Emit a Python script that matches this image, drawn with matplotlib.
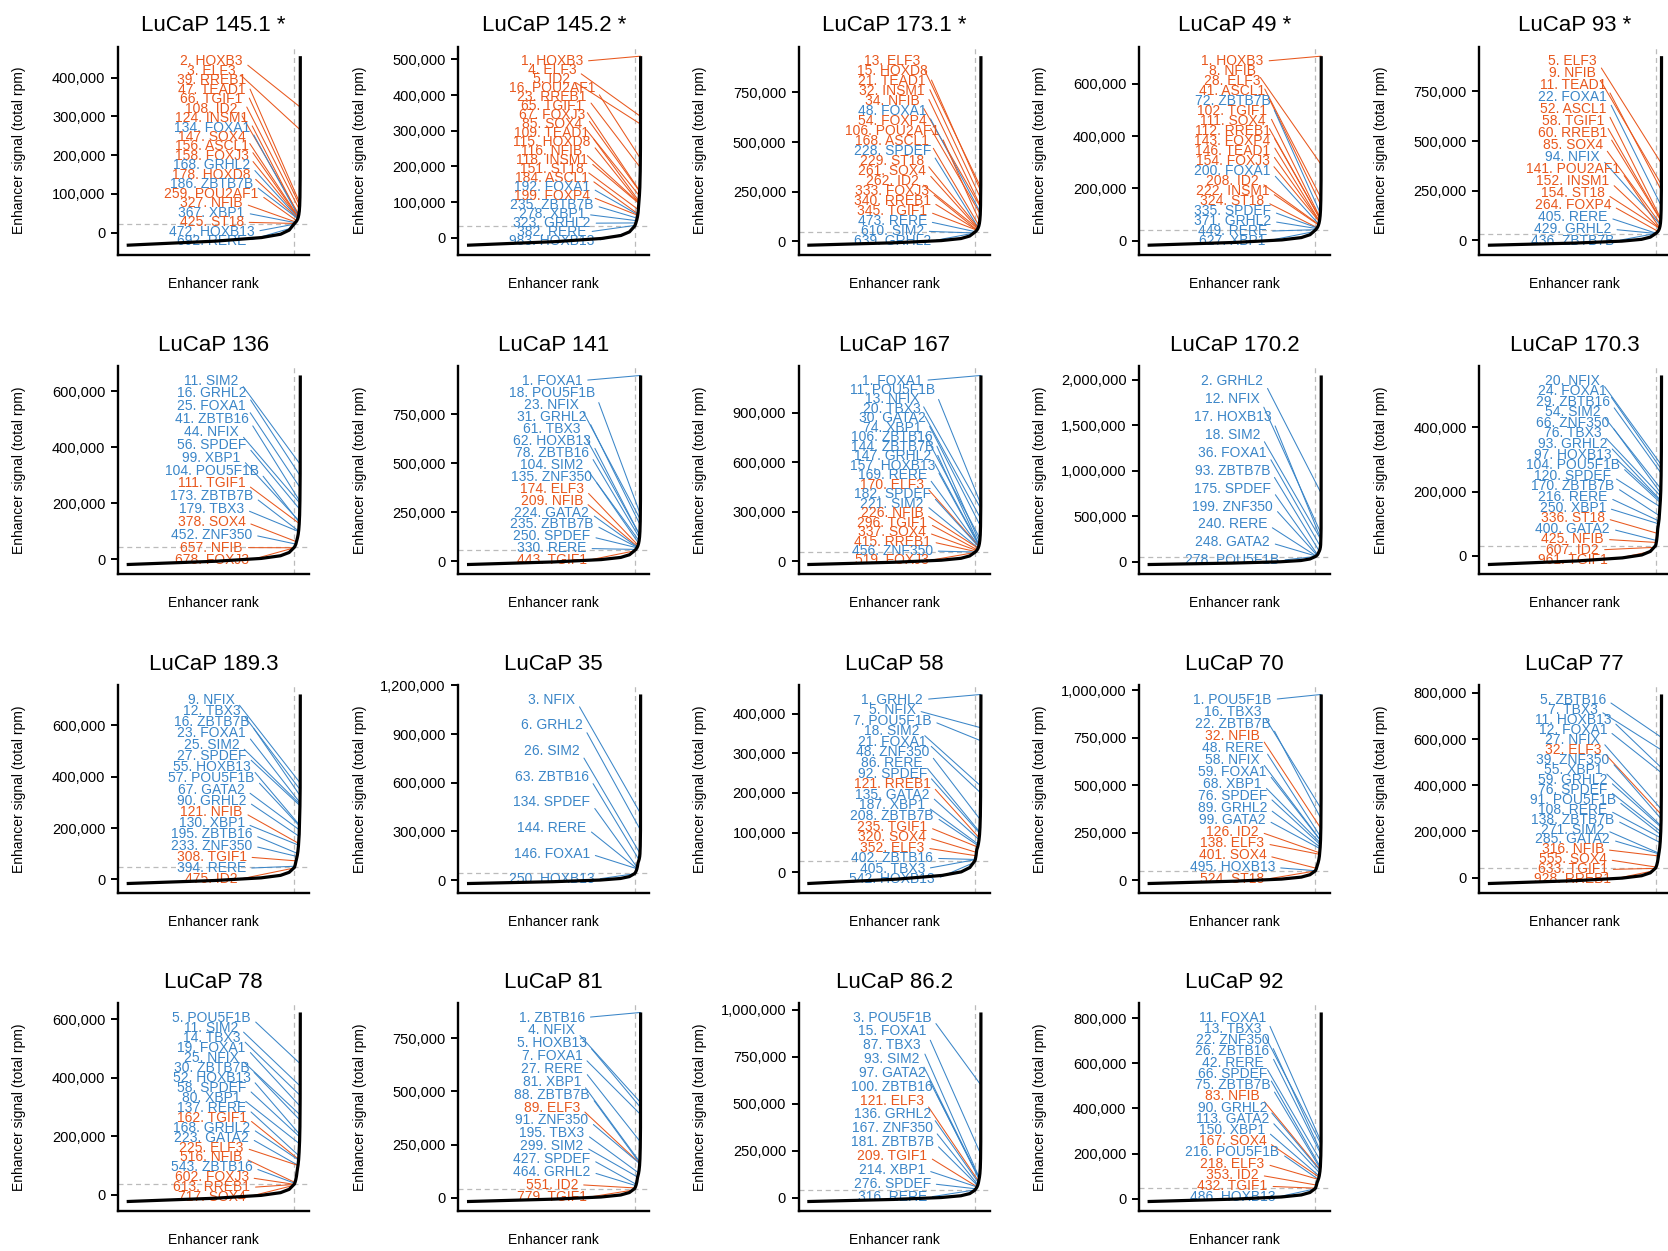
import numpy as np
import matplotlib
matplotlib.use("Agg")
import matplotlib.pyplot as plt
from matplotlib.ticker import MultipleLocator, FuncFormatter

plt.rcParams['font.family'] = ['Liberation Sans', 'DejaVu Sans']

# ---------------- data ----------------
titles = ["LuCaP 145.1 *", "LuCaP 145.2 *", "LuCaP 173.1 *", "LuCaP 49 *", "LuCaP 93 *",
          "LuCaP 136", "LuCaP 141", "LuCaP 167", "LuCaP 170.2", "LuCaP 170.3",
          "LuCaP 189.3", "LuCaP 35", "LuCaP 58", "LuCaP 70", "LuCaP 77",
          "LuCaP 78", "LuCaP 81", "LuCaP 86.2", "LuCaP 92"]

# signal of the top-ranked enhancer (rank 1)
signal_max = [455e3, 509e3, 933e3, 705e3, 928e3, 656e3, 948e3, 1125e3, 2048e3, 562e3,
              720e3, 1144e3, 448e3, 977e3, 793e3, 623e3, 871e3, 986e3, 825e3]
# signal of the lowest-ranked enhancer
signal_min = [-32e3, -21e3, -20e3, -17e3, -25e3, -19e3, -17e3, -20e3, -29e3, -27e3,
              -16e3, -21e3, -28e3, -18e3, -26e3, -23e3, -17e3, -20e3, -12e3]
# super-enhancer cutoff (signal) and number of super-enhancers
se_cutoff = [24e3, 33e3, 47e3, 41e3, 34e3, 43e3, 55e3, 55e3, 59e3, 32e3,
             47e3, 41e3, 30e3, 49e3, 41e3, 37e3, 44e3, 41e3, 46e3]
se_rank = [430, 400, 500, 480, 440, 600, 400, 470, 280, 480,
           420, 230, 420, 500, 600, 570, 580, 320, 440]
n_enhancers = [12600, 11800, 14700, 14100, 12900, 17600, 11800, 13800, 8200, 14100,
               12400, 6800, 12400, 14700, 17600, 16800, 17000, 9400, 12900]
# signal read at ranks 3, 10, 30, 100, 300 (None when beyond the SE cutoff)
anchor_ranks = [3, 10, 30, 100, 300]
anchor_signal = [
    [265e3, 150e3, 87e3, 49e3, 29e3],
    [370e3, 260e3, 180e3, 110e3, 45e3],
    [551e3, 308e3, 182e3, 102e3, 60e3],
    [480e3, 260e3, 160e3, 90e3, 52e3],
    [510e3, 265e3, 147e3, 76e3, 42e3],
    [500e3, 350e3, 240e3, 135e3, 75e3],
    [565e3, 317e3, 188e3, 106e3, 63e3],
    [657e3, 364e3, 212e3, 118e3, 69e3],
    [420e3, 350e3, 180e3, 115e3, None],
    [420e3, 340e3, 255e3, 170e3, 90e3],
    [500e3, 365e3, 280e3, 160e3, 75e3],
    [410e3, 250e3, 155e3, 110e3, None],
    [420e3, 300e3, 165e3, 95e3, 57e3],
    [650e3, 470e3, 280e3, 165e3, 85e3],
    [700e3, 500e3, 280e3, 180e3, 100e3],
    [500e3, 385e3, 255e3, 160e3, 85e3],
    [480e3, 360e3, 255e3, 155e3, 98e3],
    [600e3, 280e3, 170e3, 100e3, 45e3],
    [430e3, 260e3, 190e3, 120e3, 75e3],
]
# shape of the sub-cutoff tail (fraction along tail, fraction of rise to cutoff)
tail_pos = [0, 0.29, 0.55, 0.81, 0.92, 0.97, 1.0]
tail_rise = [0, 0.107, 0.196, 0.357, 0.51, 0.70, 1.0]

tick_step = [100e3, 100e3, 250e3, 200e3, 250e3, 200e3, 250e3, 300e3, 500e3, 200e3,
             200e3, 300e3, 100e3, 250e3, 200e3, 200e3, 250e3, 250e3, 200e3]

label_ranks = [
    [2, 3, 39, 47, 66, 108, 124, 134, 147, 156, 158, 168, 178, 186, 259, 327, 367, 425, 472, 692],
    [1, 4, 5, 16, 23, 65, 67, 85, 109, 115, 116, 118, 151, 184, 192, 199, 235, 278, 323, 382, 983],
    [13, 15, 21, 32, 34, 48, 54, 106, 168, 228, 229, 261, 262, 333, 340, 345, 473, 610, 639],
    [1, 8, 28, 41, 72, 102, 111, 112, 143, 146, 154, 200, 208, 222, 324, 335, 371, 449, 627],
    [5, 9, 11, 22, 52, 58, 60, 85, 94, 141, 152, 154, 264, 405, 429, 436],
    [11, 16, 25, 41, 44, 56, 99, 104, 111, 173, 179, 378, 452, 657, 678],
    [1, 18, 23, 31, 61, 62, 78, 104, 135, 174, 209, 224, 235, 250, 330, 443],
    [1, 11, 13, 20, 30, 74, 106, 144, 147, 157, 169, 170, 182, 221, 226, 296, 337, 415, 456, 519],
    [2, 12, 17, 18, 36, 93, 175, 199, 240, 248, 278],
    [20, 24, 29, 54, 66, 76, 93, 97, 104, 120, 170, 216, 250, 336, 400, 425, 607, 961],
    [9, 12, 16, 23, 25, 27, 55, 57, 67, 90, 121, 130, 195, 233, 308, 394, 475],
    [3, 6, 26, 63, 134, 144, 146, 250],
    [1, 5, 7, 18, 21, 48, 86, 92, 121, 135, 187, 208, 235, 320, 352, 402, 405, 542],
    [1, 16, 22, 32, 48, 58, 59, 68, 76, 89, 99, 126, 138, 401, 495, 524],
    [5, 7, 11, 12, 27, 32, 39, 55, 59, 76, 91, 108, 138, 271, 285, 316, 555, 633, 928],
    [5, 11, 14, 19, 25, 30, 52, 58, 80, 137, 162, 168, 223, 225, 516, 543, 602, 613, 717],
    [1, 4, 5, 7, 27, 81, 88, 89, 91, 195, 299, 427, 464, 551, 779],
    [3, 15, 87, 93, 97, 100, 121, 136, 167, 181, 209, 214, 276, 316],
    [11, 13, 22, 26, 42, 66, 75, 83, 90, 113, 150, 167, 216, 218, 353, 432, 486],
]
label_genes = [
    ["HOXB3", "ELF3", "RREB1", "TEAD1", "TGIF1", "ID2", "INSM1", "FOXA1", "SOX4", "ASCL1",
     "FOXJ3", "GRHL2", "HOXD8", "ZBTB7B", "POU2AF1", "NFIB", "XBP1", "ST18", "HOXB13", "RERE"],
    ["HOXB3", "ELF3", "ID2", "POU2AF1", "RREB1", "TGIF1", "FOXJ3", "SOX4", "TEAD1", "HOXD8",
     "NFIB", "INSM1", "ST18", "ASCL1", "FOXA1", "FOXP4", "ZBTB7B", "XBP1", "GRHL2", "RERE", "HOXB13"],
    ["ELF3", "HOXD8", "TEAD1", "INSM1", "NFIB", "FOXA1", "FOXP4", "POU2AF1", "ASCL1", "SPDEF",
     "ST18", "SOX4", "ID2", "FOXJ3", "RREB1", "TGIF1", "RERE", "SIM2", "GRHL2"],
    ["HOXB3", "NFIB", "ELF3", "ASCL1", "ZBTB7B", "TGIF1", "SOX4", "RREB1", "FOXP4", "TEAD1",
     "FOXJ3", "FOXA1", "ID2", "INSM1", "ST18", "SPDEF", "GRHL2", "RERE", "XBP1"],
    ["ELF3", "NFIB", "TEAD1", "FOXA1", "ASCL1", "TGIF1", "RREB1", "SOX4", "NFIX", "POU2AF1",
     "INSM1", "ST18", "FOXP4", "RERE", "GRHL2", "ZBTB7B"],
    ["SIM2", "GRHL2", "FOXA1", "ZBTB16", "NFIX", "SPDEF", "XBP1", "POU5F1B", "TGIF1", "ZBTB7B",
     "TBX3", "SOX4", "ZNF350", "NFIB", "FOXJ3"],
    ["FOXA1", "POU5F1B", "NFIX", "GRHL2", "TBX3", "HOXB13", "ZBTB16", "SIM2", "ZNF350", "ELF3",
     "NFIB", "GATA2", "ZBTB7B", "SPDEF", "RERE", "TGIF1"],
    ["FOXA1", "POU5F1B", "NFIX", "TBX3", "GATA2", "XBP1", "ZBTB16", "ZBTB7B", "GRHL2", "HOXB13",
     "RERE", "ELF3", "SPDEF", "SIM2", "NFIB", "TGIF1", "SOX4", "RREB1", "ZNF350", "FOXJ3"],
    ["GRHL2", "NFIX", "HOXB13", "SIM2", "FOXA1", "ZBTB7B", "SPDEF", "ZNF350", "RERE", "GATA2", "POU5F1B"],
    ["NFIX", "FOXA1", "ZBTB16", "SIM2", "ZNF350", "TBX3", "GRHL2", "HOXB13", "POU5F1B", "SPDEF",
     "ZBTB7B", "RERE", "XBP1", "ST18", "GATA2", "NFIB", "ID2", "TGIF1"],
    ["NFIX", "TBX3", "ZBTB7B", "FOXA1", "SIM2", "SPDEF", "HOXB13", "POU5F1B", "GATA2", "GRHL2",
     "NFIB", "XBP1", "ZBTB16", "ZNF350", "TGIF1", "RERE", "ID2"],
    ["NFIX", "GRHL2", "SIM2", "ZBTB16", "SPDEF", "RERE", "FOXA1", "HOXB13"],
    ["GRHL2", "NFIX", "POU5F1B", "SIM2", "FOXA1", "ZNF350", "RERE", "SPDEF", "RREB1", "GATA2",
     "XBP1", "ZBTB7B", "TGIF1", "SOX4", "ELF3", "ZBTB16", "TBX3", "HOXB13"],
    ["POU5F1B", "TBX3", "ZBTB7B", "NFIB", "RERE", "NFIX", "FOXA1", "XBP1", "SPDEF", "GRHL2",
     "GATA2", "ID2", "ELF3", "SOX4", "HOXB13", "ST18"],
    ["ZBTB16", "TBX3", "HOXB13", "FOXA1", "NFIX", "ELF3", "ZNF350", "XBP1", "GRHL2", "SPDEF",
     "POU5F1B", "RERE", "ZBTB7B", "SIM2", "GATA2", "NFIB", "SOX4", "TGIF1", "RREB1"],
    ["POU5F1B", "SIM2", "TBX3", "FOXA1", "NFIX", "ZBTB7B", "HOXB13", "SPDEF", "XBP1", "RERE",
     "TGIF1", "GRHL2", "GATA2", "ELF3", "NFIB", "ZBTB16", "FOXJ3", "RREB1", "SOX4"],
    ["ZBTB16", "NFIX", "HOXB13", "FOXA1", "RERE", "XBP1", "ZBTB7B", "ELF3", "ZNF350", "TBX3",
     "SIM2", "SPDEF", "GRHL2", "ID2", "TGIF1"],
    ["POU5F1B", "FOXA1", "TBX3", "SIM2", "GATA2", "ZBTB16", "ELF3", "GRHL2", "ZNF350", "ZBTB7B",
     "TGIF1", "XBP1", "SPDEF", "RERE"],
    ["FOXA1", "TBX3", "ZNF350", "ZBTB16", "RERE", "SPDEF", "ZBTB7B", "NFIB", "GRHL2", "GATA2",
     "XBP1", "SOX4", "POU5F1B", "ELF3", "ID2", "TGIF1", "HOXB13"],
]
# genes of the neuroendocrine-type program shown in orange; others in blue
orange_genes = ["HOXB3", "ELF3", "RREB1", "TEAD1", "TGIF1", "ID2", "INSM1", "SOX4", "ASCL1",
                "FOXJ3", "HOXD8", "POU2AF1", "NFIB", "ST18", "FOXP4"]

ORANGE = "#E8581E"
BLUE = "#3B86C8"

# ---------------- layout ----------------
W, H = 1668, 1251
fig = plt.figure(figsize=(W / 100, H / 100), dpi=100)
col_left = [118 + 340.3 * c for c in range(5)]
row_top = [46.7, 366, 685, 1003]
ax_w, ax_h = 191, 208


def build_curve(i):
    N = n_enhancers[i]
    nse = se_rank[i]
    ranks = np.arange(1, N + 1)
    R = [1]
    S = [signal_max[i]]
    for r, v in zip(anchor_ranks, anchor_signal[i]):
        if v is not None and r < nse:
            R.append(r)
            S.append(v)
    R.append(nse)
    S.append(se_cutoff[i])
    sig = np.empty(N)
    head = ranks <= nse
    sig[head] = np.exp(np.interp(np.log(ranks[head]), np.log(R), np.log(S)))
    t = (N - ranks[~head]) / (N - nse)
    sig[~head] = signal_min[i] + (se_cutoff[i] - signal_min[i]) * np.interp(t, tail_pos, tail_rise)
    x = N - ranks + 1
    return x, sig


fmt = FuncFormatter(lambda v, p: f"{int(round(v)):,}")

for i, title in enumerate(titles):
    r, c = divmod(i, 5)
    left = col_left[c] / W
    bottom = 1 - (row_top[r] + ax_h) / H
    ax = fig.add_axes([left, bottom, ax_w / W, ax_h / H])

    x, sig = build_curve(i)
    N = n_enhancers[i]
    smin, smax = signal_min[i], signal_max[i]
    ax.set_xlim(1 - 0.05 * (N - 1), N + 0.05 * (N - 1))
    ax.set_ylim(smin - 0.05 * (smax - smin), smax + 0.05 * (smax - smin))

    ax.axhline(se_cutoff[i], color="#BBBBBB", lw=0.9, ls=(0, (4, 3)), zorder=1)
    ax.axvline(N - se_rank[i] + 1, color="#BBBBBB", lw=0.9, ls=(0, (4, 3)), zorder=1)
    ax.plot(x, sig, color="black", lw=2.3, zorder=4, solid_capstyle="butt")

    ranks_i = label_ranks[i]
    genes_i = label_genes[i]
    ys = np.linspace(0.93, 0.065, len(ranks_i))
    for rk, g, yf in zip(ranks_i, genes_i, ys):
        col = ORANGE if g in orange_genes else BLUE
        ax.annotate(f"{rk}. {g}", xy=(N - rk + 1, sig[rk - 1]), xycoords="data",
                    xytext=(0.49, yf), textcoords="axes fraction",
                    ha="center", va="center", fontsize=10, color=col, zorder=3,
                    arrowprops=dict(arrowstyle="-", color=col, lw=0.75,
                                    shrinkA=2, shrinkB=0, relpos=(1, 0.5)),
                    annotation_clip=False)

    for s in ("top", "right"):
        ax.spines[s].set_visible(False)
    for s in ("left", "bottom"):
        ax.spines[s].set_linewidth(1.7)
    ax.set_xticks([])
    ax.yaxis.set_major_locator(MultipleLocator(tick_step[i]))
    ax.yaxis.set_major_formatter(fmt)
    ax.tick_params(axis="y", length=5, width=1.4, pad=4, labelsize=10.5)
    ax.set_title(title, fontsize=16, pad=11)
    ax.set_ylabel("Enhancer signal (total rpm)", fontsize=10)
    ax.yaxis.set_label_coords(-0.48, 0.5)
    ax.set_xlabel("Enhancer rank", fontsize=10)
    ax.xaxis.set_label_coords(0.5, -0.105)

fig.savefig("out.png", dpi=100)
